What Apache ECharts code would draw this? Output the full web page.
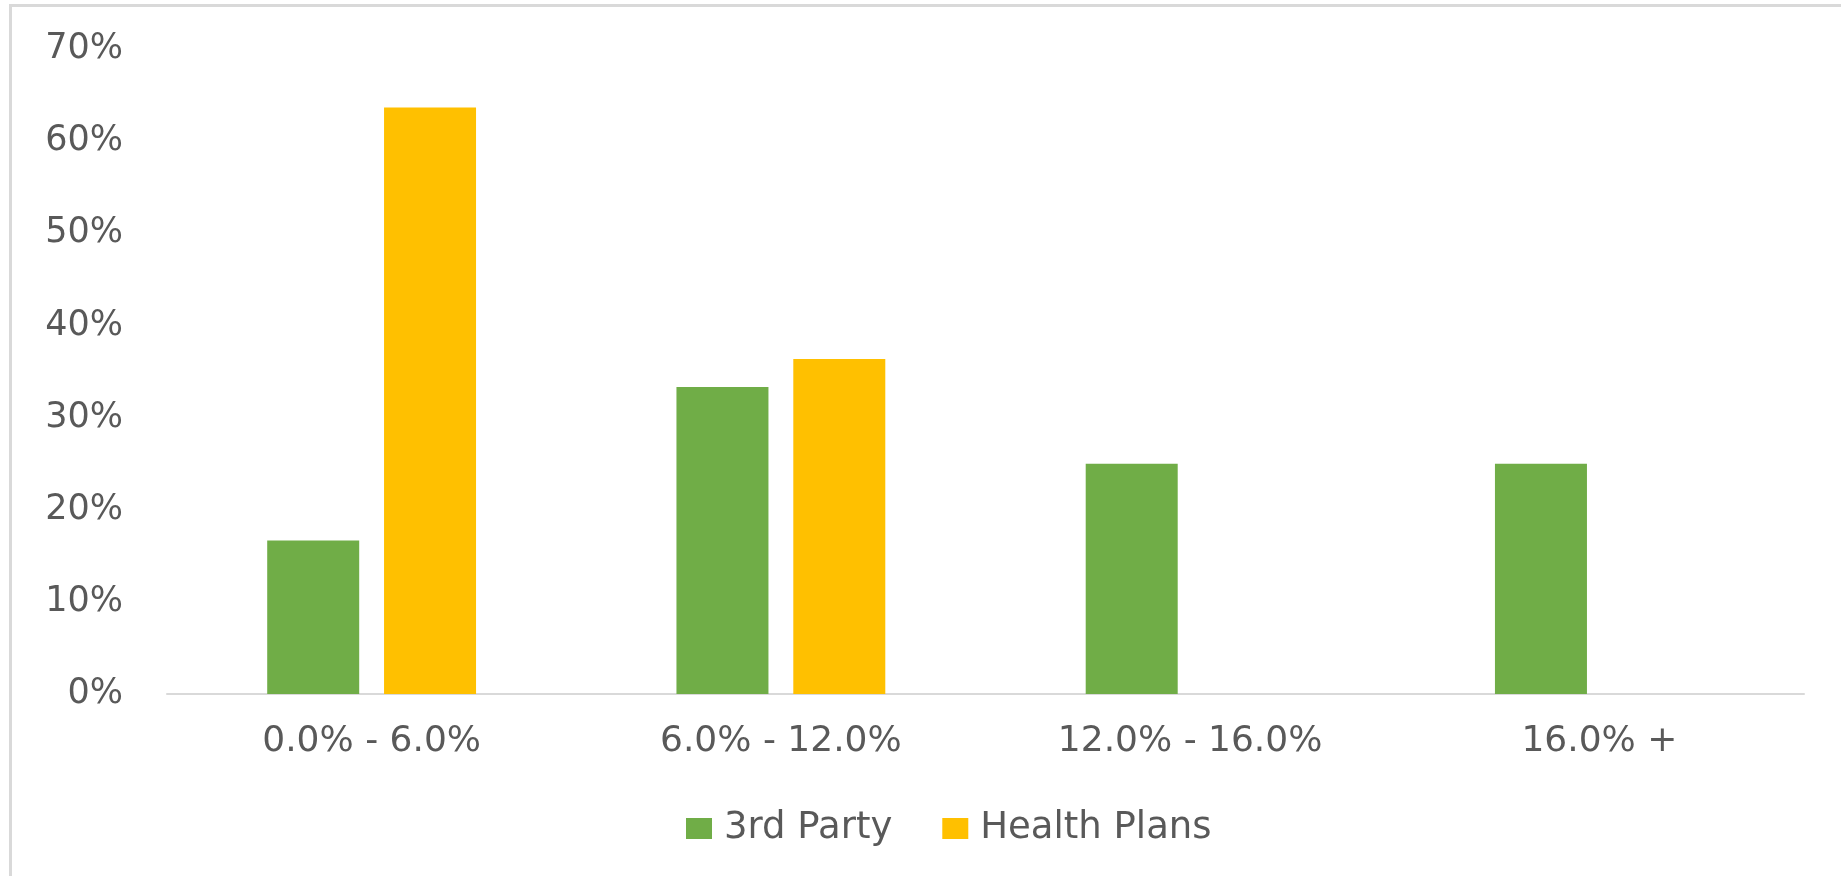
<!DOCTYPE html>
<html>
<head>
<meta charset="utf-8">
<script src="https://cdn.jsdelivr.net/npm/echarts@6/dist/echarts.min.js"></script>
<style>
  html, body { margin: 0; padding: 0; background: #ffffff; }
  #chart { width: 1841px; height: 876px; }
</style>
</head>
<body>
<div id="chart"></div>
<script>
// Share of contracts by rate band, per payer type (percent)
const categories = ['0.0% - 6.0%', '6.0% - 12.0%', '12.0% - 16.0%', '16.0% +'];
const thirdParty = [16.67, 33.33, 25.0, 25.0];
const healthPlans = [63.64, 36.36, 0, 0];
const seriesNames = ['3rd Party', 'Health Plans'];
const yTicks = { min: 0, max: 70, interval: 10 };

const textColor = '#595959';
const fontFamily = '"DejaVu Sans", Verdana, sans-serif';

const chart = echarts.init(document.getElementById('chart'), null, { renderer: 'canvas' });

chart.setOption({
  animation: false,
  backgroundColor: '#ffffff',
  graphic: [{
    type: 'rect',
    shape: { x: 10.5, y: 5.5, width: 2000, height: 1000 },
    style: { fill: 'none', stroke: '#d9d9d9', lineWidth: 3 },
    silent: true
  }],
  grid: { left: 167, right: 37, top: 49, bottom: 182, containLabel: false },
  legend: {
    left: 681,
    top: 805,
    itemWidth: 26,
    itemHeight: 21,
    itemGap: 50,
    icon: 'rect',
    textStyle: { color: textColor, fontSize: 37, fontFamily: fontFamily, padding: [0, 0, 0, 7] },
    data: seriesNames
  },
  xAxis: {
    type: 'category',
    data: categories,
    axisLine: { show: true, lineStyle: { color: '#d9d9d9', width: 2 } },
    axisTick: { show: false },
    axisLabel: { color: textColor, fontSize: 36, fontFamily: fontFamily, margin: 30 },
    splitLine: { show: false }
  },
  yAxis: {
    type: 'value',
    min: yTicks.min,
    max: yTicks.max,
    interval: yTicks.interval,
    axisLine: { show: false },
    axisTick: { show: false },
    splitLine: { show: false },
    axisLabel: {
      color: textColor, fontSize: 35, fontFamily: fontFamily, margin: 44,
      formatter: '{value}%'
    }
  },
  series: [
    {
      name: seriesNames[0],
      type: 'bar',
      data: thirdParty,
      barWidth: 92,
      barGap: '27%',
      itemStyle: { color: '#70ad47' }
    },
    {
      name: seriesNames[1],
      type: 'bar',
      data: healthPlans,
      barWidth: 92,
      barGap: '27%',
      itemStyle: { color: '#ffc000' }
    }
  ]
});
</script>
</body>
</html>
